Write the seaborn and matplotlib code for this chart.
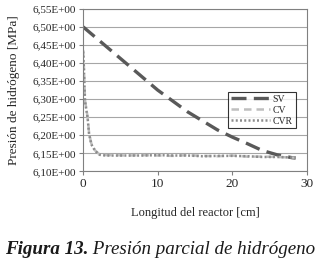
import pandas as pd
import numpy as np
import matplotlib.pyplot as plt
import seaborn as sns

# datos
x_sv = [0, 2, 4, 6, 8, 10, 12, 14, 16, 18, 20, 22, 24, 26, 28, 28.5]
y_sv = [6.500, 6.465, 6.430, 6.395, 6.360, 6.325, 6.295, 6.265, 6.240,
        6.215, 6.195, 6.177, 6.158, 6.146, 6.138, 6.137]

x_cv = [0, 0.1, 0.25, 0.45, 0.6, 0.8, 1.1, 1.6, 2.2, 3, 4, 6, 8, 10, 12,
        14, 16, 18, 20, 22, 24, 26, 28.5]
y_cv = [6.436, 6.390, 6.297, 6.270, 6.250, 6.205, 6.177, 6.158, 6.147,
        6.145, 6.145, 6.144, 6.145, 6.144, 6.143, 6.145, 6.143, 6.142,
        6.144, 6.141, 6.141, 6.140, 6.138]

x_cvr = x_cv
y_cvr = [6.432, 6.385, 6.295, 6.268, 6.248, 6.203, 6.175, 6.157, 6.146,
         6.144, 6.144, 6.144, 6.144, 6.145, 6.144, 6.144, 6.142, 6.143,
         6.143, 6.142, 6.140, 6.140, 6.138]

yticks = [6.10, 6.15, 6.20, 6.25, 6.30, 6.35, 6.40, 6.45, 6.50, 6.55]
xticks = [0, 10, 20, 30]

sns.set_style('white')
plt.rcParams['font.family'] = ['Liberation Serif', 'DejaVu Serif']

df_sv = pd.DataFrame({'x': x_sv, 'y': y_sv})
df_cv = pd.DataFrame({'x': x_cv, 'y': y_cv})
df_cvr = pd.DataFrame({'x': x_cvr, 'y': y_cvr})

fig = plt.figure(figsize=(3.21, 2.67), dpi=100)
ax = fig.add_axes([0.259, 0.358, 0.697, 0.609])

sns.lineplot(data=df_sv, x='x', y='y', ax=ax, color='#595959',
             lw=2.4, label='SV')
sns.lineplot(data=df_cv, x='x', y='y', ax=ax, color='#bfbfbf',
             lw=1.8, label='CV')
sns.lineplot(data=df_cvr, x='x', y='y', ax=ax, color='#8c8c8c',
             lw=1.8, label='CVR')
ax.lines[0].set_dashes((4.5, 2.2))
ax.lines[1].set_dashes((3, 2))
ax.lines[2].set_dashes((0.8, 0.9))

ax.set_xlim(0, 30)
ax.set_ylim(6.10, 6.55)
ax.set_yticks(yticks)
ax.set_yticklabels([('%.2fE+00' % v).replace('.', ',') for v in yticks],
                   fontsize=8)
ax.set_xticks(xticks)
ax.set_xticklabels([str(v) for v in xticks], fontsize=9.5)
ax.tick_params(axis='both', length=3, width=0.8, color='#808080', pad=2,
               direction='out', left=True, bottom=True)
ax.grid(axis='y', color='#a6a6a6', lw=0.8)
ax.grid(axis='x', visible=False)
for s in ax.spines.values():
    s.set_color('#808080')
    s.set_linewidth(0.8)

ax.set_xlabel('Longitud del reactor [cm]', fontsize=9, labelpad=12)
ax.set_ylabel('Presión de hidrógeno [MPa]', fontsize=9.5, labelpad=9)

leg = ax.legend(loc='upper left', bbox_to_anchor=(0.648, 0.49), fontsize=7,
                frameon=True, fancybox=False, borderpad=0.3,
                handlelength=4.0, handletextpad=0.3, labelspacing=0.2,
                borderaxespad=0)
leg.get_frame().set_edgecolor('black')
leg.get_frame().set_linewidth(0.8)

# pie de figura
t1 = fig.text(0.015, 0.048, 'Figura 13.', fontsize=13.7, fontweight='bold',
              style='italic', color='#1a1a1a', va='baseline')
fig.canvas.draw()
bb = t1.get_window_extent(fig.canvas.get_renderer())
x2 = bb.x1 / fig.bbox.width
fig.text(x2, 0.048, ' Presión parcial de hidrógeno', fontsize=13.7,
         style='italic', color='#1a1a1a', va='baseline')

fig.savefig('out.png', dpi=100)
